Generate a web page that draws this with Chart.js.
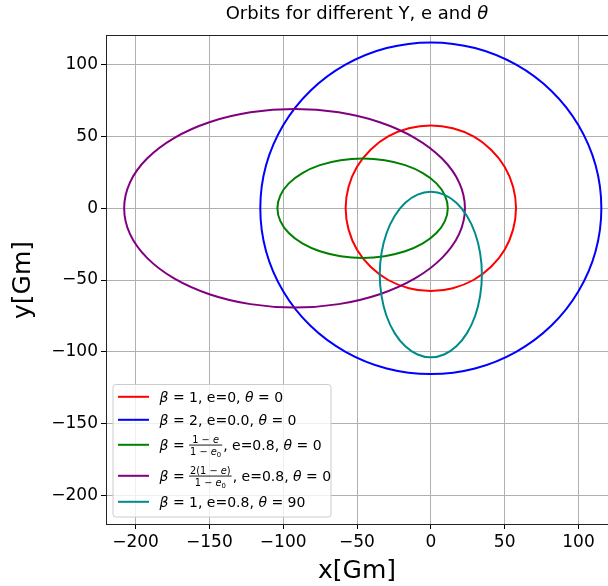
<!DOCTYPE html>
<html>
<head>
<meta charset="utf-8">
<script src="https://cdn.jsdelivr.net/npm/chart.js@4"></script>
<style>
html,body{margin:0;padding:0;background:#fff;}
canvas{display:block;}
</style>
</head>
<body>
<canvas id="c" width="608" height="586"></canvas>
<script>
// ---------- text ----------
const titleText = 'Orbits for different Y, e and ';
const titleSymbol = 'θ';
const xAxisLabel = 'x[Gm]';
const yAxisLabel = 'y[Gm]';

// ---------- axes ----------
const xRange = [-220, 120];
const yRange = [-220, 120];
const xTicks = [-200, -150, -100, -50, 0, 50, 100];
const yTicks = [-200, -150, -100, -50, 0, 50, 100];

// ---------- series ----------
const seriesNames = [
  'β = 1, e=0, θ = 0',
  'β = 2, e=0.0, θ = 0',
  'β = (1 − e)/(1 − e0), e=0.8, θ = 0',
  'β = 2(1 − e)/(1 − e0), e=0.8, θ = 0',
  'β = 1, e=0.8, θ = 90'
];
const seriesColors = ['#ff0000', '#0000ff', '#008000', '#800080', '#008b8b'];

// orbit points (Gm)
const redX = [57.7, 55.7, 50.0, 40.8, 28.9, 14.9, 0, -14.9, -28.9, -40.8, -50.0, -55.7, -57.7, -55.7, -50.0, -40.8, -28.9, -14.9, 0, 14.9, 28.9, 40.8, 50.0, 55.7];
const redY = [0, 14.9, 28.9, 40.8, 50.0, 55.7, 57.7, 55.7, 50.0, 40.8, 28.9, 14.9, 0, -14.9, -28.9, -40.8, -50.0, -55.7, -57.7, -55.7, -50.0, -40.8, -28.9, -14.9];

const blueX = [115.5, 111.6, 100.0, 81.7, 57.8, 29.9, 0, -29.9, -57.8, -81.7, -100.0, -111.6, -115.5, -111.6, -100.0, -81.7, -57.8, -29.9, 0, 29.9, 57.8, 81.7, 100.0, 111.6];
const blueY = [0, 29.9, 57.8, 81.7, 100.0, 111.6, 115.5, 111.6, 100.0, 81.7, 57.8, 29.9, 0, -29.9, -57.8, -81.7, -100.0, -111.6, -115.5, -111.6, -100.0, -81.7, -57.8, -29.9];

const greenX = [11.5, 9.5, 3.8, -5.4, -17.4, -31.3, -46.2, -61.1, -75.1, -87.0, -96.2, -101.9, -103.9, -101.9, -96.2, -87.0, -75.1, -61.1, -46.2, -31.3, -17.4, -5.4, 3.8, 9.5];
const greenY = [0, 9.0, 17.3, 24.5, 30.0, 33.4, 34.6, 33.4, 30.0, 24.5, 17.3, 9.0, 0, -9.0, -17.3, -24.5, -30.0, -33.4, -34.6, -33.4, -30.0, -24.5, -17.3, -9.0];

const purpleX = [23.1, 19.2, 7.6, -10.7, -34.6, -62.4, -92.3, -122.2, -150.0, -173.9, -192.2, -203.8, -207.7, -203.8, -192.2, -173.9, -150.0, -122.2, -92.3, -62.4, -34.6, -10.7, 7.6, 19.2];
const purpleY = [0, 17.9, 34.6, 48.9, 59.9, 66.8, 69.2, 66.8, 59.9, 48.9, 34.6, 17.9, 0, -17.9, -34.6, -48.9, -59.9, -66.8, -69.2, -66.8, -59.9, -48.9, -34.6, -17.9];

const tealX = [0, 9.0, 17.3, 24.5, 30.0, 33.4, 34.6, 33.4, 30.0, 24.5, 17.3, 9.0, 0, -9.0, -17.3, -24.5, -30.0, -33.4, -34.6, -33.4, -30.0, -24.5, -17.3, -9.0];
const tealY = [11.5, 9.5, 3.8, -5.4, -17.4, -31.3, -46.2, -61.1, -75.1, -87.0, -96.2, -101.9, -103.9, -101.9, -96.2, -87.0, -75.1, -61.1, -46.2, -31.3, -17.4, -5.4, 3.8, 9.5];

// rich legend labels (math-style rendering of seriesNames)
const legendRich = [
  [['β','i'], [' = 1, e=0, ','n'], ['θ','i'], [' = 0','n']],
  [['β','i'], [' = 2, e=0.0, ','n'], ['θ','i'], [' = 0','n']],
  [['β','i'], [' = ','n'], {num: [['1 − ','n'], ['e','i']], den: [['1 − ','n'], ['e','i'], ['0','s']]}, [', e=0.8, ','n'], ['θ','i'], [' = 0','n']],
  [['β','i'], [' = ','n'], {num: [['2(1 − ','n'], ['e','i'], [')','n']], den: [['1 − ','n'], ['e','i'], ['0','s']]}, [', e=0.8, ','n'], ['θ','i'], [' = 0','n']],
  [['β','i'], [' = 1, e=0.8, ','n'], ['θ','i'], [' = 90','n']]
];

// ---------- build ----------
const FONT = '"DejaVu Sans"';
const mk = (xs, ys) => xs.map((x, i) => ({x: x, y: ys[i]}));
const allX = [redX, blueX, greenX, purpleX, tealX];
const allY = [redY, blueY, greenY, purpleY, tealY];
const datasets = seriesNames.map((name, i) => ({
  label: name,
  data: mk(allX[i], allY[i]),
  borderColor: seriesColors[i],
  backgroundColor: seriesColors[i],
  borderWidth: 2,
  pointRadius: 0,
  pointHoverRadius: 0,
  fill: false,
  tension: 0.34,
  order: seriesNames.length - i
}));

const fmt = v => (v < 0 ? '\u2212' + Math.abs(v) : String(v));

// closes each orbit into a smooth loop
const loopPlugin = {
  id: 'loopOrbit',
  beforeDatasetDraw(chart, args) {
    const line = args.meta.dataset;
    if (line) {
      line._loop = true;
      line._fullLoop = true;
      line._pointsUpdated = false;
      line._path = undefined;
      delete line._segments;
    }
  }
};

function fontFor(style, size) {
  return (style === 'i' ? 'italic ' : '') + size + 'px ' + FONT;
}
function runWidth(ctx, run, size) {
  let w = 0;
  for (const [t, s] of run) {
    const sz = s === 's' ? size * 0.7 : size;
    ctx.font = fontFor(s === 's' ? 'n' : s, sz);
    w += ctx.measureText(t).width;
  }
  return w;
}
function drawRun(ctx, run, x, base, size) {
  for (const [t, s] of run) {
    const sz = s === 's' ? size * 0.7 : size;
    ctx.font = fontFor(s === 's' ? 'n' : s, sz);
    const dy = s === 's' ? size * 0.22 : 0;
    ctx.fillText(t, x, base + dy);
    x += ctx.measureText(t).width;
  }
  return x;
}

const decorPlugin = {
  id: 'decor',
  afterDatasetsDraw(chart) {
    const ctx = chart.ctx;
    const a = chart.chartArea;
    // legend
    const fs = 14;
    const bx = a.left + 7, by = a.bottom - 7 - 132.5, bw = 218, bh = 132.5, r = 3;
    ctx.save();
    ctx.beginPath();
    ctx.moveTo(bx + r, by);
    ctx.lineTo(bx + bw - r, by); ctx.quadraticCurveTo(bx + bw, by, bx + bw, by + r);
    ctx.lineTo(bx + bw, by + bh - r); ctx.quadraticCurveTo(bx + bw, by + bh, bx + bw - r, by + bh);
    ctx.lineTo(bx + r, by + bh); ctx.quadraticCurveTo(bx, by + bh, bx, by + bh - r);
    ctx.lineTo(bx, by + r); ctx.quadraticCurveTo(bx, by, bx + r, by);
    ctx.closePath();
    ctx.fillStyle = 'rgba(255,255,255,0.8)';
    ctx.fill();
    ctx.strokeStyle = '#cccccc';
    ctx.lineWidth = 1;
    ctx.stroke();
    const rowOff = [12.3, 35.3, 60.3, 91.3, 117.3];
    ctx.textBaseline = 'alphabetic';
    ctx.textAlign = 'left';
    legendRich.forEach((parts, i) => {
      const cy = by + rowOff[i];
      ctx.strokeStyle = seriesColors[i];
      ctx.lineWidth = 2;
      ctx.beginPath();
      ctx.moveTo(bx + 5, cy);
      ctx.lineTo(bx + 36, cy);
      ctx.stroke();
      ctx.fillStyle = '#000';
      let x = bx + 46.5;
      const base = cy + 5;
      for (const p of parts) {
        if (Array.isArray(p)) {
          x = drawRun(ctx, [p], x, base, fs);
        } else {
          const f = fs * 0.7;
          const wn = runWidth(ctx, p.num, f);
          const wd = runWidth(ctx, p.den, f);
          const w = Math.max(wn, wd) + 2;
          const barY = cy + 0.3;
          ctx.fillRect(x, barY - 0.5, w, 0.9);
          drawRun(ctx, p.num, x + (w - wn) / 2, barY - 2.3, f);
          drawRun(ctx, p.den, x + (w - wd) / 2, barY + 2.3 + f * 0.73, f);
          x += w + 1;
        }
      }
    });
    ctx.restore();
  },
  afterDraw(chart) {
    const ctx = chart.ctx;
    const a = chart.chartArea;
    ctx.save();
    // top spine
    ctx.strokeStyle = '#222';
    ctx.lineWidth = 1;
    ctx.beginPath();
    ctx.moveTo(a.left, a.top - 0.5);
    ctx.lineTo(a.right, a.top - 0.5);
    ctx.stroke();
    // title
    ctx.fillStyle = '#000';
    ctx.textBaseline = 'middle';
    ctx.textAlign = 'left';
    ctx.font = '18px ' + FONT;
    const w1 = ctx.measureText(titleText).width;
    ctx.font = 'italic 18px ' + FONT;
    const w2 = ctx.measureText(titleSymbol).width;
    const cx = (a.left + a.right) / 2;
    const x0 = cx - (w1 + w2) / 2;
    ctx.font = '18px ' + FONT;
    ctx.fillText(titleText, x0, 14.5);
    ctx.font = 'italic 18px ' + FONT;
    ctx.fillText(titleSymbol, x0 + w1, 14.5);
    ctx.restore();
  }
};

const tickFont = {family: 'DejaVu Sans', size: 17};
const titleFont = {family: 'DejaVu Sans', size: 25, lineHeight: 1.2};

new Chart(document.getElementById('c').getContext('2d'), {
  type: 'line',
  data: {datasets: datasets},
  options: {
    responsive: false,
    animation: false,
    events: [],
    layout: {padding: {top: 36, left: 0, right: 0, bottom: 0}},
    plugins: {
      legend: {display: false},
      title: {display: false},
      tooltip: {enabled: false}
    },
    scales: {
      x: {
        type: 'linear',
        min: xRange[0],
        max: xRange[1],
        afterBuildTicks: s => { s.ticks = xTicks.map(v => ({value: v})); },
        afterFit: s => { s.height = 62; },
        ticks: {font: tickFont, color: '#000', padding: 3, maxRotation: 0, autoSkip: false, callback: v => fmt(v)},
        grid: {color: '#b0b0b0', lineWidth: 1, tickColor: '#000', tickLength: 5, drawTicks: true},
        border: {display: true, color: '#222', width: 1},
        title: {display: true, text: xAxisLabel, font: titleFont, color: '#000', padding: {top: 0, bottom: 0}}
      },
      y: {
        type: 'linear',
        min: yRange[0],
        max: yRange[1],
        afterBuildTicks: s => { s.ticks = yTicks.map(v => ({value: v})); },
        afterFit: s => { s.width = 106; },
        ticks: {font: tickFont, color: '#000', padding: 3, autoSkip: false, callback: v => fmt(v)},
        grid: {color: '#b0b0b0', lineWidth: 1, tickColor: '#000', tickLength: 5, drawTicks: true},
        border: {display: true, color: '#222', width: 1},
        title: {display: true, text: yAxisLabel, font: titleFont, color: '#000', padding: {top: 8, bottom: 0}}
      }
    }
  },
  plugins: [loopPlugin, decorPlugin]
});
</script>
</body>
</html>
